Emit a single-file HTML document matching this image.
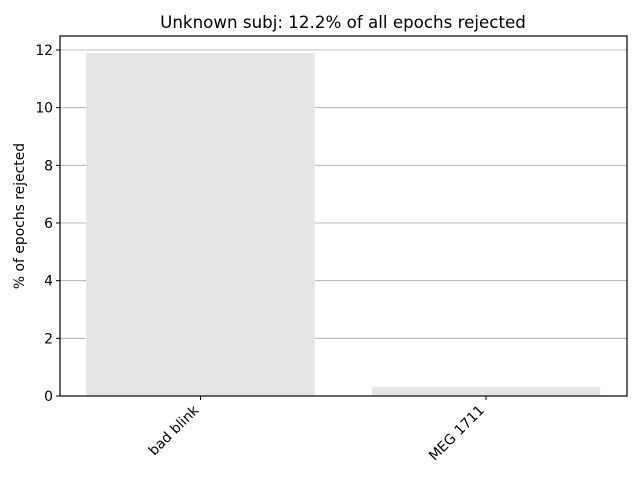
<!DOCTYPE html>
<html><head><meta charset="utf-8"><style>body{margin:0;background:#fff}svg{display:block;font-family:"DejaVu Sans","Liberation Sans",sans-serif}</style></head>
<body>
<svg id="chart" width="640" height="480">
<text x="343" y="28" font-size="16.7" text-anchor="middle">Unknown subj: 12.2% of all epochs rejected</text>
<g id="grid"></g><g id="bars"></g><g id="yticks"></g><g id="xticks"></g>
<rect x="60" y="36" width="567" height="360" fill="none" stroke="#000" stroke-width="1.2"/>
<text transform="translate(24,216) rotate(-90)" font-size="13.9" text-anchor="middle">% of epochs rejected</text>
</svg>
<script>
const categories=["bad blink","MEG 1711"];
const values=[11.9,0.31];
const yTicks=[0,2,4,6,8,10,12];
const NS="http://www.w3.org/2000/svg";
const y=v=>396-v*(346/12);
const x=i=>200.5+285.5*i;
function mk(t,a,p){const e=document.createElementNS(NS,t);for(const k in a)e.setAttribute(k,a[k]);document.getElementById(p).appendChild(e);return e;}
yTicks.forEach(t=>{
 if(t>0){const g=mk("line",{x1:60,x2:627,y1:y(t),y2:y(t),stroke:"#a8a8a8","stroke-width":0.8},"grid");
 
 }
 const tk=mk("line",{x1:56,x2:60,y1:y(t),y2:y(t),stroke:"#000"},"yticks");
 
 
 const l=mk("text",{x:53,y:y(t)+5,"font-size":13.9,"text-anchor":"end"},"yticks");l.textContent=t;
 
 
});
categories.forEach((c,i)=>{
 const w=228.4;
 const b=mk("rect",{x:x(i)-w/2,y:y(values[i]),width:w,height:396-y(values[i]),fill:"#e5e5e5"},"bars");
 
 
 const tk=mk("line",{x1:x(i),x2:x(i),y1:396,y2:400,stroke:"#000"},"xticks");
 
 
 const l=mk("text",{transform:`translate(${x(i)-1},${411}) rotate(-45)`,"font-size":13.9,"text-anchor":"end"},"xticks");l.textContent=c;
 
 
});
</script>
</body></html>
